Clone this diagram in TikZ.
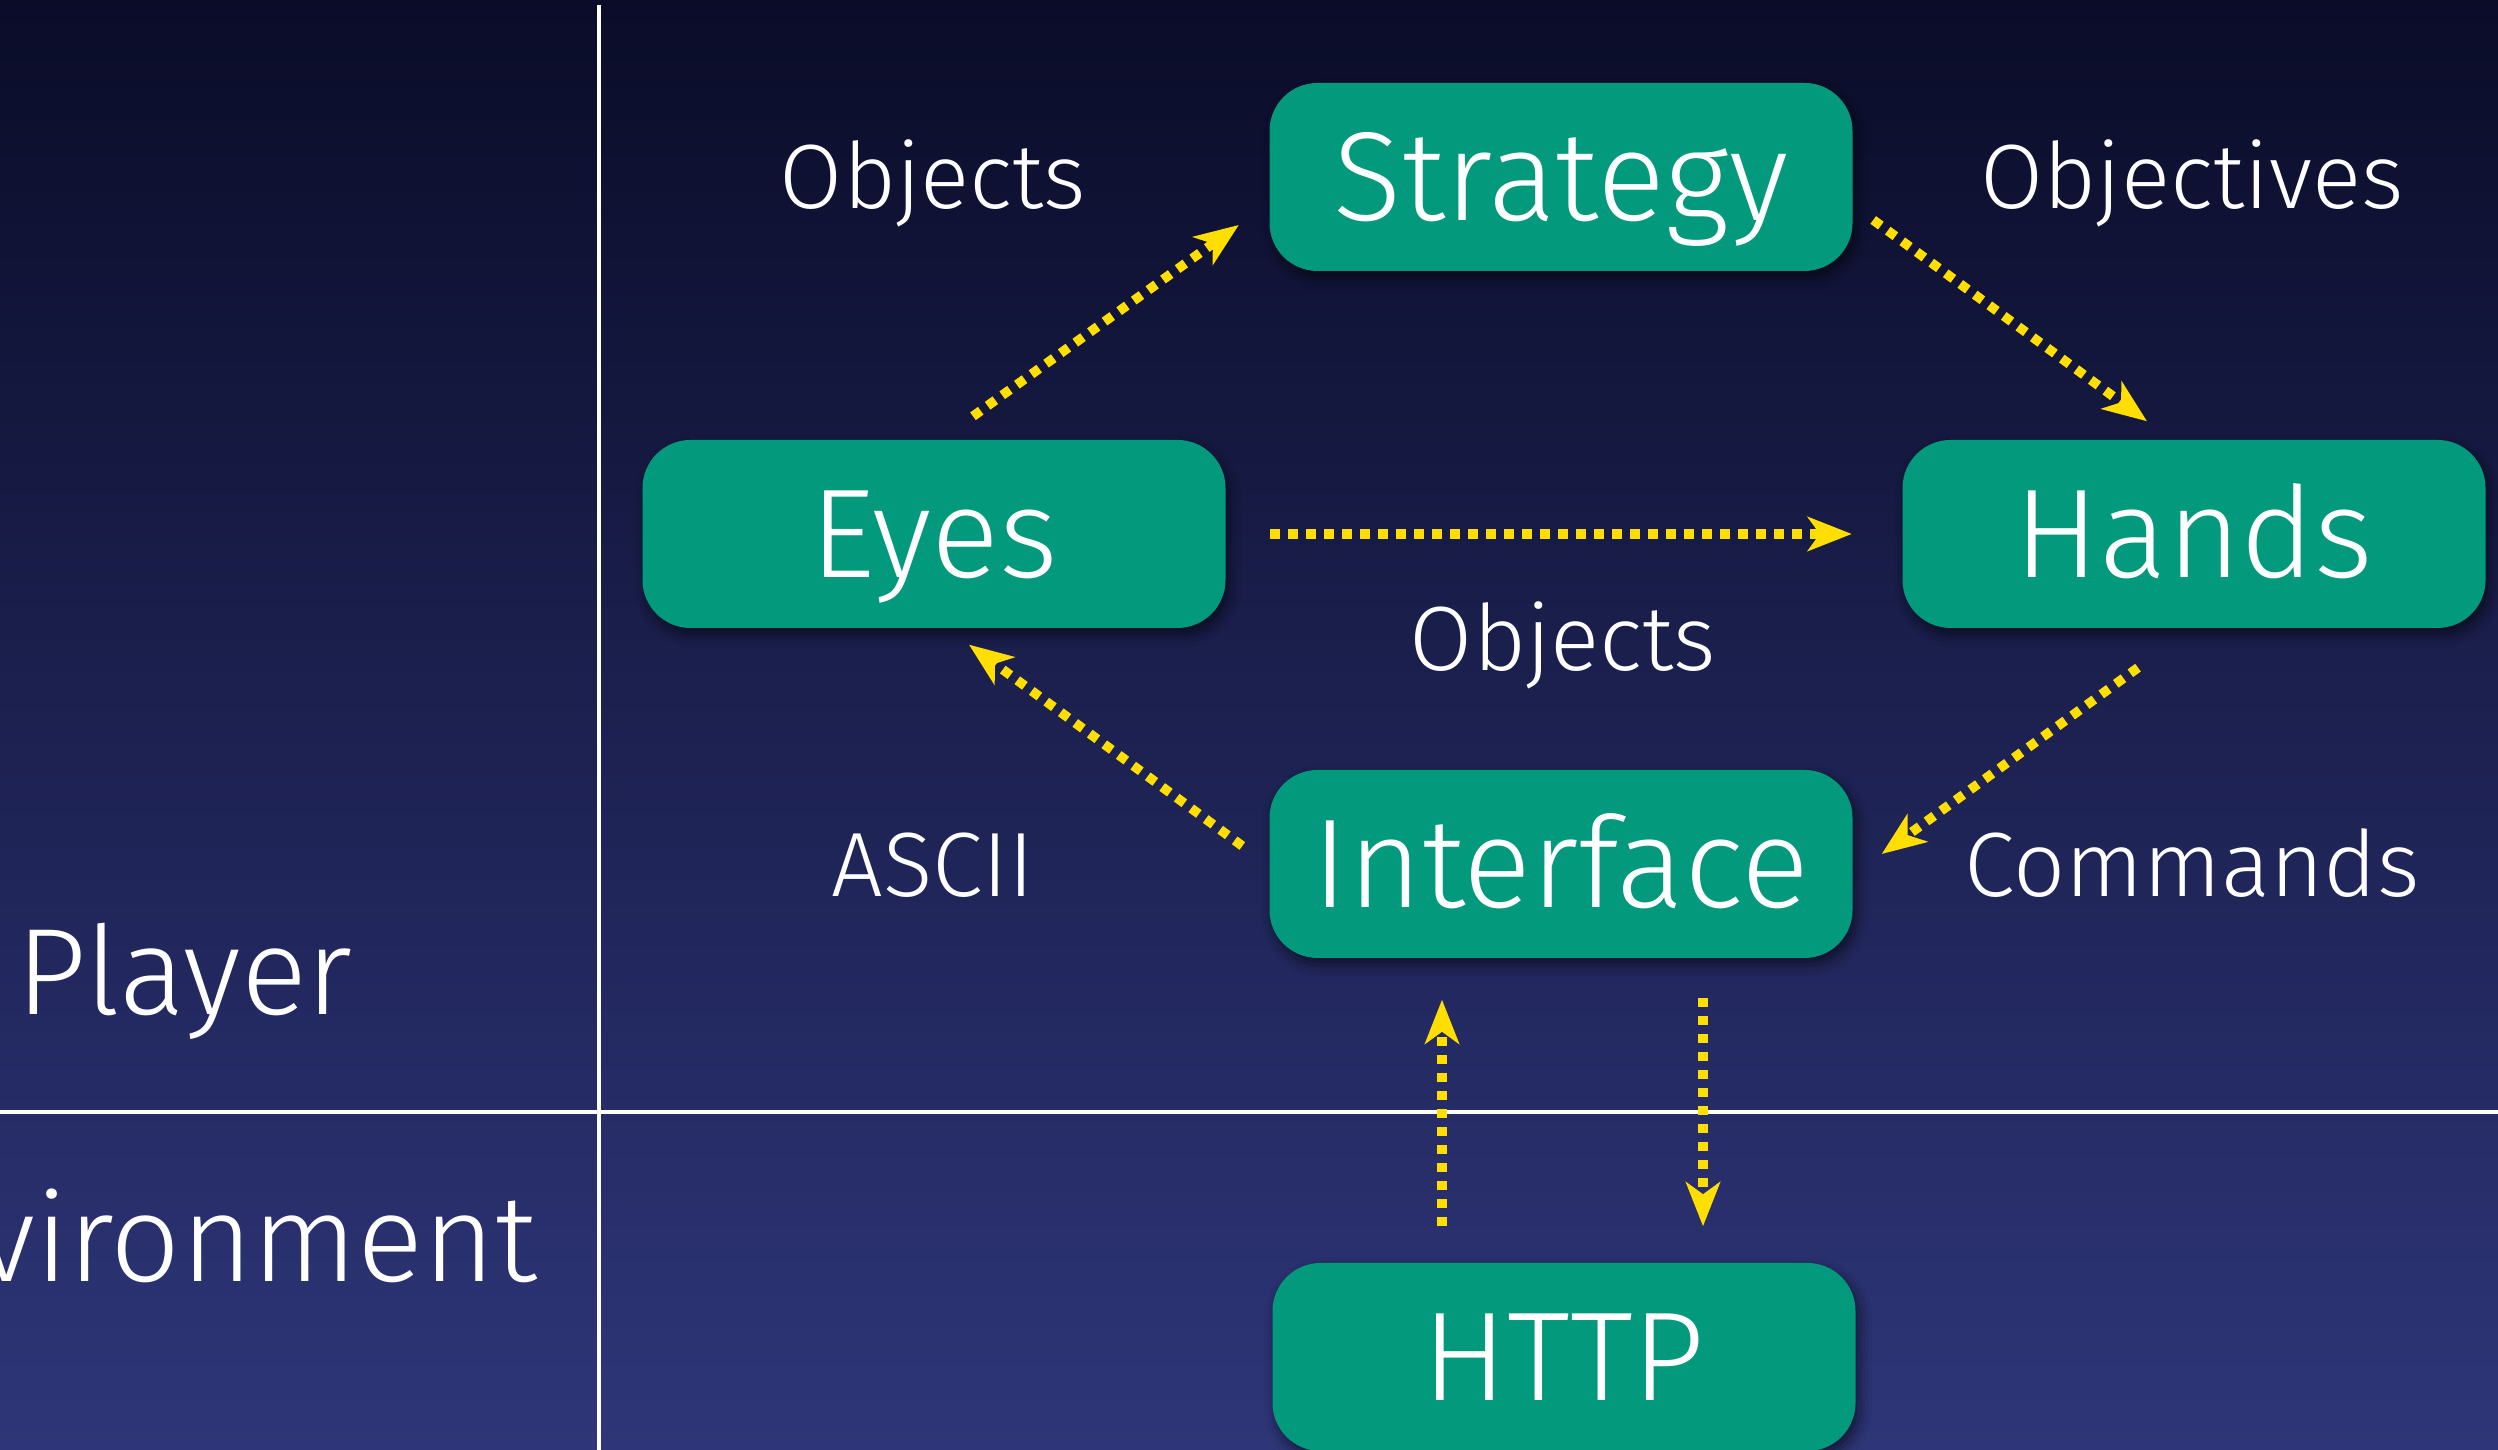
\documentclass[tikz,border=0pt]{standalone}
\usepackage{fontspec}
\setmainfont{Fira Sans Light}
\usetikzlibrary{arrows.meta,shadows.blur}
\definecolor{nentren}{RGB}{10,12,40}
\definecolor{nenduoi}{RGB}{46,54,121}
\definecolor{xanhngoc}{RGB}{3,153,124}
\definecolor{vang}{RGB}{255,222,0}
\begin{document}
\begin{tikzpicture}[line join=round,
	box/.style={fill=xanhngoc, rounded corners=.48cm, minimum width=5.83cm, minimum height=1.88cm, text height=.88cm, text depth=0cm, text=white, font=\fontsize{36}{40}\selectfont, blur shadow={shadow xshift=.04cm, shadow yshift=-.07cm, shadow blur radius=.12cm, shadow opacity=55}},
	note/.style={text=white, text height=.64cm, text depth=0cm, font=\fontsize{26}{30}\selectfont},
	flow/.style={->, vang, line width=.095cm, dash pattern=on .095cm off .085cm},
	>={Stealth[length=.44cm, width=.34cm, inset=.12cm]}]
	\def\W{24.98} % width
	\def\H{14.5} % height
	\useasboundingbox (0,0) rectangle (\W,\H);
	\shade[top color=nentren, bottom color=nenduoi] (0,0) rectangle (\W,\H);
	% frame lines
	\draw[white, line width=.035cm] (5.99,\H-.05)--(5.99,0) (0,3.38)--(\W,3.38);
	\node[note, anchor=base west, font=\fontsize{35}{40}\selectfont] (player) at (.04,4.35) {Player};
	\node[note, anchor=base east, font=\fontsize{35}{40}\selectfont] (env) at (5.5,1.68) {Environment};
	% boxes
	\node[box] (strategy) at (15.61,12.73) {Strategy};
	\node[box] (eyes) at (9.34,9.16) {Eyes};
	\node[box] (hands) at (21.94,9.16) {Hands};
	\node[box] (interface) at (15.61,5.86) {Interface};
	\node[box] (http) at (15.64,.93) {HTTP};
	% labels
	\node[note] (objA) at (9.33,12.73) {Objects};
	\node[note] (objectives) at (21.92,12.73) {Objectives};
	\node[note] (objB) at (15.63,8.11) {Objects};
	\node[note] (ascii) at (9.33,5.85) {ASCII};
	\node[note] (commands) at (21.92,5.85) {Commands};
	% arrows
	\draw[flow] ([shift={(.39,.23)}]eyes.north)--([shift={(-.3,-.48)}]strategy.west);
	\draw[flow] ([shift={(.2,-.43)}]strategy.east)--([shift={(-.47,.18)}]hands.north);
	\draw[flow, shorten <=.44cm, shorten >=.5cm] (eyes)--(hands);
	\draw[flow] ([shift={(-.56,-.39)}]hands.south)--([shift={(.285,.1)}]interface.east);
	\draw[flow] ([shift={(-.265,.18)}]interface.west)--([shift={(.35,-.16)}]eyes.south);
	\draw[flow] ([shift={(-1.22,.36)}]http.north)--([shift={(-1.19,-.41)}]interface.south);
	\draw[flow] ([shift={(1.42,-.39)}]interface.south)--([shift={(1.39,.36)}]http.north);
\end{tikzpicture}
\end{document}
